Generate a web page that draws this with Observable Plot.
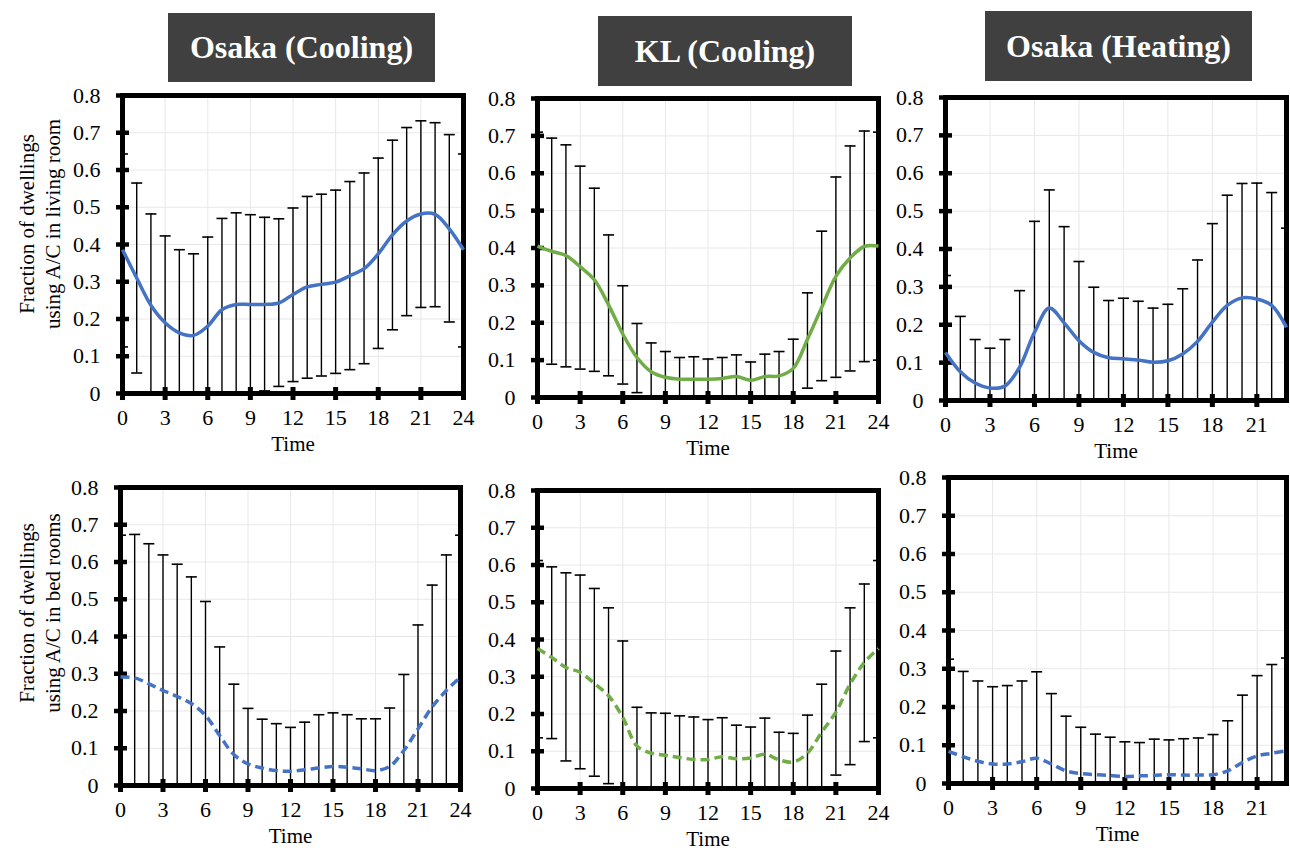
<!DOCTYPE html>
<html><head><meta charset="utf-8">
<script src="https://cdn.jsdelivr.net/npm/d3@7"></script>
<script src="https://cdn.jsdelivr.net/npm/@observablehq/plot@0.6"></script>
<style>
body{margin:0;background:#fff;}
#root{position:relative;width:1290px;height:850px;overflow:hidden;font-family:"Liberation Serif","Times New Roman",Tinos,"DejaVu Serif",serif;background:#fff;}
.panel{position:absolute;}
.title{position:absolute;background:#404040;color:#fff;font-weight:bold;font-size:32px;display:flex;align-items:center;justify-content:center;font-family:"Liberation Serif","Times New Roman",Tinos,"DejaVu Serif",serif;}
.ylab{position:absolute;width:320px;height:52px;transform:rotate(-90deg);text-align:center;font-size:21px;line-height:26px;white-space:nowrap;font-family:"Liberation Serif","Times New Roman",Tinos,"DejaVu Serif",serif;}
</style></head>
<body>
<div id="root"></div>
<script>
// ---- data ----
const hours24 = [0,1,2,3,4,5,6,7,8,9,10,11,12,13,14,15,16,17,18,19,20,21,22,23,24];
const hours23 = [0,1,2,3,4,5,6,7,8,9,10,11,12,13,14,15,16,17,18,19,20,21,22,23];
const yTicks = [0,0.1,0.2,0.3,0.4,0.5,0.6,0.7,0.8];
const xTicks24 = [0,3,6,9,12,15,18,21,24];
const xTicks23 = [0,3,6,9,12,15,18,21];
const panelTitles = ["Osaka (Cooling)", "KL (Cooling)", "Osaka (Heating)"];
const yLabelLiving = ["Fraction of dwellings", "using A/C in living room"];
const yLabelBed = ["Fraction of dwellings", "using A/C in bed rooms"];
const xLabel = "Time";

// Osaka cooling, living room
const osakaCoolLivMean = [0.386,0.31,0.237,0.19,0.163,0.156,0.181,0.225,0.239,0.239,0.239,0.243,0.266,0.286,0.293,0.299,0.316,0.335,0.375,0.426,0.463,0.482,0.481,0.442,0.386];
const osakaCoolLivHi = [0.643,0.565,0.482,0.423,0.386,0.375,0.42,0.47,0.485,0.48,0.473,0.469,0.498,0.529,0.535,0.546,0.569,0.592,0.632,0.68,0.714,0.732,0.727,0.695,0.643];
const osakaCoolLivLo = [0.125,0.055,0,0,0,0,0,0,0,0,0.007,0.019,0.032,0.041,0.047,0.054,0.064,0.08,0.121,0.171,0.209,0.231,0.233,0.192,0.125];
// KL cooling, living room
const klCoolLivMean = [0.405,0.391,0.38,0.35,0.315,0.248,0.17,0.107,0.069,0.054,0.049,0.049,0.049,0.051,0.056,0.046,0.056,0.058,0.078,0.156,0.241,0.324,0.373,0.404,0.405];
const klCoolLivHi = [0.71,0.694,0.676,0.619,0.56,0.435,0.299,0.198,0.146,0.123,0.107,0.109,0.103,0.107,0.114,0.095,0.116,0.123,0.156,0.28,0.445,0.59,0.673,0.713,0.71];
const klCoolLivLo = [0.1,0.089,0.082,0.076,0.07,0.058,0.036,0.013,0,0,0,0,0,0,0,0,0,0,0,0.025,0.045,0.054,0.071,0.096,0.1];
// Osaka heating, living room
const osakaHeatLivMean = [0.127,0.076,0.046,0.033,0.038,0.088,0.18,0.244,0.205,0.158,0.127,0.113,0.11,0.107,0.101,0.105,0.123,0.156,0.207,0.251,0.271,0.268,0.251,0.193];
const osakaHeatLivHi = [0.33,0.222,0.161,0.138,0.161,0.29,0.473,0.556,0.459,0.367,0.299,0.264,0.27,0.262,0.244,0.254,0.295,0.371,0.467,0.542,0.573,0.574,0.549,0.455];
const osakaHeatLivLo = [0,0,0,0,0,0,0,0,0,0,0,0,0,0,0,0,0,0,0,0,0,0,0,0];
// Osaka cooling, bed rooms
const osakaCoolBedMean = [0.291,0.289,0.273,0.255,0.239,0.22,0.188,0.134,0.083,0.058,0.047,0.04,0.038,0.042,0.047,0.051,0.049,0.045,0.04,0.051,0.094,0.152,0.211,0.255,0.291];
const osakaCoolBedHi = [0.672,0.674,0.649,0.619,0.594,0.56,0.494,0.372,0.272,0.207,0.178,0.166,0.156,0.17,0.19,0.195,0.19,0.179,0.179,0.208,0.298,0.431,0.538,0.619,0.672];
const osakaCoolBedLo = [0,0,0,0,0,0,0,0,0,0,0,0,0,0,0,0,0,0,0,0,0,0,0,0,0];
// KL cooling, bed rooms
const klCoolBedMean = [0.376,0.352,0.325,0.312,0.282,0.249,0.191,0.114,0.095,0.089,0.083,0.078,0.078,0.085,0.08,0.082,0.092,0.077,0.071,0.095,0.151,0.205,0.28,0.338,0.376];
const klCoolBedHi = [0.612,0.595,0.579,0.573,0.537,0.485,0.396,0.218,0.203,0.202,0.195,0.192,0.185,0.19,0.17,0.165,0.189,0.151,0.148,0.197,0.28,0.369,0.485,0.549,0.612];
const klCoolBedLo = [0.136,0.134,0.074,0.053,0.033,0.013,0,0,0,0,0,0,0,0,0,0,0,0,0,0,0,0.036,0.064,0.126,0.136];
// Osaka heating, bed rooms
const osakaHeatBedMean = [0.084,0.07,0.058,0.051,0.051,0.057,0.066,0.051,0.033,0.026,0.023,0.021,0.018,0.02,0.021,0.023,0.022,0.022,0.023,0.033,0.055,0.072,0.079,0.086];
const osakaHeatBedHi = [0.325,0.293,0.268,0.253,0.256,0.268,0.292,0.235,0.176,0.147,0.129,0.121,0.109,0.107,0.116,0.114,0.117,0.119,0.128,0.164,0.231,0.282,0.311,0.328];
const osakaHeatBedLo = [0,0,0,0,0,0,0,0,0,0,0,0,0,0,0,0,0,0,0,0,0,0,0,0];

const BLUE = "#4472C4", GREEN = "#70AD47";
const SERIF = "'Liberation Serif', 'Times New Roman', Tinos, 'DejaVu Serif', serif";

// ---- drawing ----
const root = document.getElementById("root");
const capSym = {draw(ctx){ ctx.moveTo(-5.5,0); ctx.lineTo(5.5,0); }};
const hTickSym = {draw(ctx){ ctx.moveTo(-6.5,0); ctx.lineTo(6.5,0); }};
const vTickSym = {draw(ctx){ ctx.moveTo(0,-6.5); ctx.lineTo(0,6.5); }};

function panel(cfg) {
  const {hours, mean, hi, lo, color, dashed, xMax, xTicks, frame} = cfg;
  const [fx0, fy0, fx1, fy1] = frame;
  const data = hours.map((h, i) => ({h, m: mean[i], hi: hi[i], lo: lo[i]}));
  const mL = 70, mR = cfg.mR ?? 12, mT = 12, mB = 70;
  const plot = Plot.plot({
    width: fx1 - fx0 + mL + mR,
    height: fy1 - fy0 + mT + mB,
    marginLeft: mL, marginRight: mR, marginTop: mT, marginBottom: mB,
    x: {domain: [0, xMax], label: null},
    y: {domain: [0, 0.8], label: null},
    style: {fontFamily: SERIF, color: "black", background: "transparent", overflow: "visible"},
    marks: [
      Plot.gridX(xTicks, {stroke: "#e8e8e8", strokeOpacity: 1, strokeWidth: 1}),
      Plot.gridY(yTicks, {stroke: "#e8e8e8", strokeOpacity: 1, strokeWidth: 1}),
      Plot.ruleX(data, {x: "h", y1: "lo", y2: "hi", stroke: "black", strokeWidth: 1.4, clip: true}),
      Plot.dot(data, {x: "h", y: "hi", symbol: capSym, stroke: "black", strokeWidth: 1.6, fill: "none", clip: true}),
      Plot.dot(data.filter(d => d.lo > 0), {x: "h", y: "lo", symbol: capSym, stroke: "black", strokeWidth: 1.6, fill: "none", clip: true}),
      Plot.frame({stroke: "black", strokeWidth: 5}),
      Plot.dot(yTicks, {x: () => 0, y: d => d, symbol: hTickSym, stroke: "black", strokeWidth: 4.5, fill: "none"}),
      Plot.dot(xTicks, {x: d => d, y: () => 0, symbol: vTickSym, stroke: "black", strokeWidth: 5, fill: "none"}),
      Plot.axisY(yTicks, {tickSize: 0, tickPadding: 22, tickFormat: d => String(d), fontSize: 22, fontFamily: SERIF, label: null}),
      Plot.axisX(xTicks, {tickSize: 0, tickPadding: 16, tickFormat: d => String(d), fontSize: 22, fontFamily: SERIF, label: null}),
      Plot.text([xLabel], {frameAnchor: "bottom", dy: 57, text: d => d, fontSize: 21, fontFamily: SERIF}),
      Plot.line(data, {x: "h", y: "m", stroke: color, strokeWidth: 3.5, curve: "catmull-rom",
        strokeDasharray: dashed ? "9,5" : null, strokeLinecap: "butt"})
    ]
  });
  plot.classList.add("panel");
  plot.style.left = (fx0 - mL) + "px";
  plot.style.top = (fy0 - mT) + "px";
  root.appendChild(plot);
}

panel({hours: hours24, mean: osakaCoolLivMean, hi: osakaCoolLivHi, lo: osakaCoolLivLo, color: BLUE, dashed: false, xMax: 24, xTicks: xTicks24, frame: [122, 95, 463, 393]});
panel({hours: hours24, mean: klCoolLivMean, hi: klCoolLivHi, lo: klCoolLivLo, color: GREEN, dashed: false, xMax: 24, xTicks: xTicks24, frame: [537, 98, 878, 397]});
panel({hours: hours23, mean: osakaHeatLivMean, hi: osakaHeatLivHi, lo: osakaHeatLivLo, color: BLUE, dashed: false, xMax: 23, xTicks: xTicks23, frame: [945, 97, 1286, 400], mR: 3});
panel({hours: hours24, mean: osakaCoolBedMean, hi: osakaCoolBedHi, lo: osakaCoolBedLo, color: BLUE, dashed: true, xMax: 24, xTicks: xTicks24, frame: [120, 487, 460, 785]});
panel({hours: hours24, mean: klCoolBedMean, hi: klCoolBedHi, lo: klCoolBedLo, color: GREEN, dashed: true, xMax: 24, xTicks: xTicks24, frame: [537, 490, 878, 788]});
panel({hours: hours23, mean: osakaHeatBedMean, hi: osakaHeatBedHi, lo: osakaHeatBedLo, color: BLUE, dashed: true, xMax: 23, xTicks: xTicks23, frame: [948, 477, 1286, 783], mR: 3});

// titles
const titleBoxes = [[168, 13, 267, 69], [598, 16, 254, 70], [985, 11, 267, 70]];
panelTitles.forEach((t, i) => {
  const [l, tp, w, h] = titleBoxes[i];
  const d = document.createElement("div");
  d.className = "title";
  d.style.left = l + "px"; d.style.top = tp + "px"; d.style.width = w + "px"; d.style.height = h + "px";
  d.textContent = t;
  root.appendChild(d);
});

// y labels
function ylab(lines, cx, cy) {
  const d = document.createElement("div");
  d.className = "ylab";
  d.style.left = (cx - 160) + "px";
  d.style.top = (cy - 26) + "px";
  d.innerHTML = lines.map(s => "<div>" + s + "</div>").join("");
  root.appendChild(d);
}
ylab(yLabelLiving, 40, 224);
ylab(yLabelBed, 40, 613);
</script>
</body></html>
